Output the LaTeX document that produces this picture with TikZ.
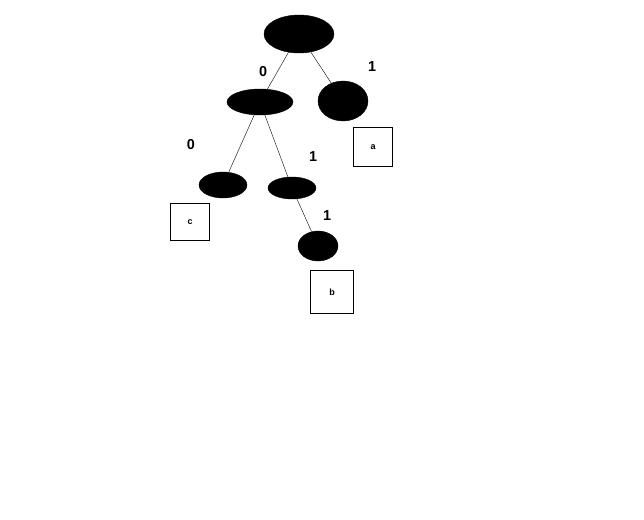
\documentclass[tikz,border=0pt]{standalone}
\usepackage{fontspec}
\setmainfont{Liberation Sans}
\usetikzlibrary{shapes.geometric}
\begin{document}
\begin{tikzpicture}[x=1pt,y=-1pt,
  blob/.style={ellipse,fill=black,draw=black,inner sep=0pt},
  leaf/.style={draw=black,minimum width=39pt,minimum height=39pt,inner sep=0pt,font=\bfseries\small},
  lbl/.style={font=\bfseries\Large}]
\useasboundingbox (0,0) rectangle (644,519);
\node[blob,minimum width=70pt,minimum height=38pt] (r) at (299,34) {};
\node[blob,minimum width=66pt,minimum height=26pt] (l) at (260,102) {};
\node[blob,minimum width=50pt,minimum height=40pt] (ra) at (343,101) {};
\node[blob,minimum width=48pt,minimum height=26pt] (lc) at (223,185) {};
\node[blob,minimum width=48pt,minimum height=22pt] (lr) at (292,188) {};
\node[blob,minimum width=40pt,minimum height=30pt] (lb) at (318,246) {};
\node[leaf] (a) at (373,147) {a};
\node[leaf,minimum height=37pt] (c) at (190,222) {c};
\node[leaf,minimum width=43pt,minimum height=43pt] (b) at (332,292) {b};
\draw (r) -- (l);
\draw (r) -- (ra);
\draw (l) -- (lc);
\draw (l) -- (lr);
\draw (lr) -- (lb);
\node[lbl] (t1) at (263,72) {0};
\node[lbl] (t2) at (372,67) {1};
\node[lbl] (t3) at (191,145) {0};
\node[lbl] (t4) at (313,157) {1};
\node[lbl] (t5) at (327,216) {1};
\end{tikzpicture}
\end{document}
